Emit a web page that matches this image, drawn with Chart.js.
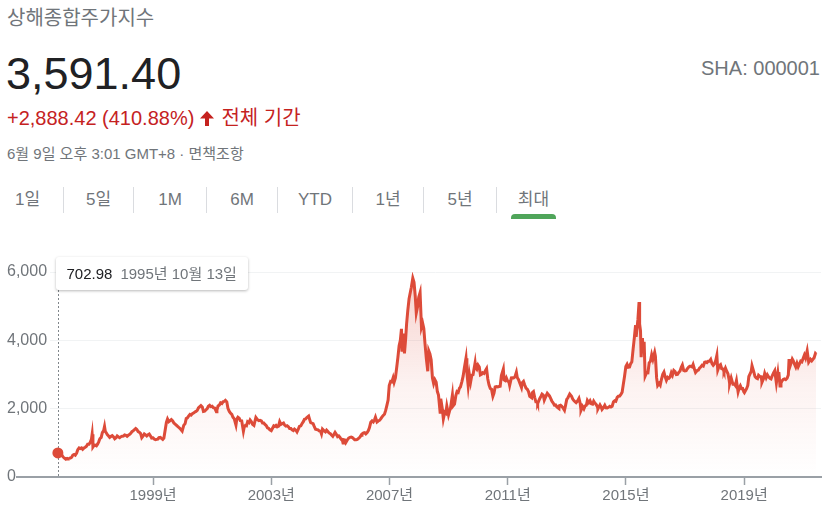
<!DOCTYPE html>
<html lang="ko">
<head>
<meta charset="utf-8">
<title>상해종합주가지수</title>
<script src="https://cdn.jsdelivr.net/npm/chart.js@4.4.1/dist/chart.umd.min.js"></script>
<style>
  html, body { margin: 0; padding: 0; background: #fff; }
  body { width: 831px; height: 516px; position: relative; overflow: hidden;
         font-family: Arial, "Liberation Sans", "Noto Sans CJK KR", sans-serif; }
  .abs { position: absolute; line-height: 1; white-space: nowrap; }
  #title { left: 7px; top: 8px; font-size: 20px; color: #70757a; }
  #price { left: 6px; top: 51px; font-size: 45px; color: #202124; }
  #change { left: 7px; top: 108px; font-size: 20px; color: #c5221f; }
  #change svg { display: inline-block; vertical-align: -1px; margin: 0 7px 0 6px; }
  #stamp { left: 7px; top: 146px; font-size: 15px; color: #70757a; }
  #ticker { right: 11px; top: 58px; font-size: 20px; color: #70757a; }
  #tabs { position: absolute; left: -8px; top: 187px; height: 26px; display: flex; }
  #tabs div { height: 26px; line-height: 26px; text-align: center; font-size: 17px;
              color: #70757a; border-left: 1px solid #dadce0; box-sizing: border-box; position: relative; }
  #tabs div:first-child { border-left: none; }
  #tabs div.on::after { content: ""; position: absolute; left: 14px; right: 14px; top: 27px; height: 5px;
                        background: #4fa55a; border-radius: 4px 4px 0 0; }
  #wrap { position: absolute; left: 0; top: 240px; width: 831px; height: 276px; }
  #tip { position: absolute; top: 257px; height: 33px; line-height: 33px; padding: 0 11px;
         background: #fff; border-radius: 3px; font-size: 15px; color: #70757a;
         box-shadow: 0 1px 3px rgba(0,0,0,0.28); white-space: nowrap; }
  #tip b { font-weight: normal; color: #202124; margin-right: 8px; }
</style>
</head>
<body>
<div class="abs" id="title">상해종합주가지수</div>
<div class="abs" id="price">3,591.40</div>
<div class="abs" id="change">+2,888.42 (410.88%)<svg width="14" height="15" viewBox="0 0 14 15"><path d="M7 0 L14 7.5 L9 7.5 L9 15 L5 15 L5 7.5 L0 7.5 Z" fill="#c5221f"/></svg>전체 기간</div>
<div class="abs" id="stamp">6월 9일 오후 3:01 GMT+8 · 면책조항</div>
<div class="abs" id="ticker">SHA: 000001</div>
<div id="tabs"></div>
<div id="wrap"><canvas id="chart"></canvas></div>
<div id="tip"></div>

<script>
const ranges = ['1일', '5일', '1M', '6M', 'YTD', '1년', '5년', '최대'];
const rangeWidths = [71, 70, 73, 71, 75, 71, 73, 74];

const yearTicks = [1999, 2003, 2007, 2011, 2015, 2019];
const valueTicks = [0, 2000, 4000, 6000];

const dates = [
  '1995-10-13','1995-11-01','1995-11-15','1995-12-01','1995-12-15','1996-01-02','1996-01-19','1996-02-05','1996-02-15','1996-03-01',
  '1996-03-15','1996-04-01','1996-04-15','1996-05-01','1996-05-15','1996-06-01','1996-06-15','1996-07-01','1996-07-15','1996-08-01',
  '1996-08-15','1996-09-01','1996-09-15','1996-10-01','1996-10-15','1996-11-01','1996-11-15','1996-12-01','1996-12-10','1996-12-20',
  '1997-01-01','1997-01-15','1997-02-01','1997-02-15','1997-03-01','1997-03-15','1997-04-01','1997-04-15','1997-05-01','1997-05-12',
  '1997-05-22','1997-06-01','1997-06-15','1997-07-01','1997-07-15','1997-08-01','1997-08-15','1997-09-01','1997-09-15','1997-10-01',
  '1997-10-15','1997-11-01','1997-11-15','1997-12-01','1997-12-15','1998-01-01','1998-01-15','1998-02-01','1998-02-15','1998-03-01',
  '1998-03-15','1998-04-01','1998-04-15','1998-05-01','1998-06-01','1998-06-15','1998-07-01','1998-07-15','1998-08-01','1998-08-15',
  '1998-09-01','1998-09-15','1998-10-01','1998-10-15','1998-11-01','1998-11-15','1998-12-01','1998-12-15','1999-01-01','1999-01-15',
  '1999-02-01','1999-02-15','1999-03-01','1999-03-15','1999-04-01','1999-04-15','1999-05-01','1999-05-15','1999-06-01','1999-06-15',
  '1999-06-29','1999-07-15','1999-08-01','1999-08-15','1999-09-01','1999-09-15','1999-10-01','1999-10-15','1999-11-01','1999-11-15',
  '1999-12-01','1999-12-27','2000-01-15','2000-02-01','2000-02-15','2000-03-01','2000-03-15','2000-04-01','2000-04-15','2000-05-01',
  '2000-05-15','2000-06-01','2000-06-15','2000-07-01','2000-07-15','2000-08-01','2000-08-15','2000-09-01','2000-09-15','2000-10-01',
  '2000-10-15','2000-11-01','2000-11-15','2000-12-01','2000-12-15','2001-01-01','2001-01-15','2001-02-01','2001-02-22','2001-03-01',
  '2001-03-15','2001-04-01','2001-04-15','2001-05-01','2001-05-15','2001-06-01','2001-06-14','2001-07-01','2001-07-15','2001-08-01',
  '2001-08-15','2001-09-01','2001-09-15','2001-10-01','2001-10-22','2001-11-01','2001-11-15','2001-12-01','2001-12-15','2002-01-01',
  '2002-01-22','2002-02-01','2002-02-15','2002-03-01','2002-03-15','2002-04-01','2002-04-15','2002-05-01','2002-05-15','2002-06-01',
  '2002-06-25','2002-07-15','2002-08-01','2002-08-15','2002-09-01','2002-09-15','2002-10-01','2002-10-15','2002-11-01','2002-11-15',
  '2002-12-01','2002-12-15','2003-01-01','2003-01-15','2003-02-01','2003-02-15','2003-03-01','2003-03-15','2003-04-01','2003-04-15',
  '2003-05-01','2003-05-15','2003-06-01','2003-06-15','2003-07-01','2003-07-15','2003-08-01','2003-08-15','2003-09-01','2003-09-15',
  '2003-10-01','2003-10-15','2003-11-01','2003-11-15','2003-12-01','2003-12-15','2004-01-01','2004-01-15','2004-02-01','2004-02-15',
  '2004-03-01','2004-03-15','2004-04-07','2004-04-20','2004-05-01','2004-05-15','2004-06-01','2004-06-15','2004-07-01','2004-07-15',
  '2004-08-01','2004-08-15','2004-09-01','2004-09-13','2004-09-25','2004-10-15','2004-11-01','2004-11-15','2004-12-01','2004-12-15',
  '2005-01-01','2005-01-15','2005-01-31','2005-02-15','2005-02-28','2005-03-15','2005-03-31','2005-04-15','2005-04-30','2005-05-15',
  '2005-05-31','2005-06-06','2005-06-15','2005-06-30','2005-07-11','2005-07-29','2005-08-15','2005-08-31','2005-09-15','2005-09-30',
  '2005-10-15','2005-10-28','2005-11-15','2005-11-30','2005-12-15','2005-12-30','2006-01-15','2006-01-26','2006-02-15','2006-02-28',
  '2006-03-15','2006-03-31','2006-04-15','2006-04-28','2006-05-15','2006-05-31','2006-06-15','2006-06-30','2006-07-12','2006-07-31',
  '2006-08-15','2006-08-31','2006-09-15','2006-09-29','2006-10-15','2006-10-31','2006-11-15','2006-11-30','2006-12-15','2006-12-29',
  '2007-01-15','2007-01-31','2007-02-15','2007-02-27','2007-03-15','2007-03-30','2007-04-15','2007-04-30','2007-05-15','2007-05-29',
  '2007-06-05','2007-06-20','2007-07-05','2007-07-20','2007-07-31','2007-08-15','2007-08-31','2007-09-15','2007-09-28','2007-10-16',
  '2007-10-31','2007-11-15','2007-11-28','2007-12-15','2007-12-28','2008-01-14','2008-01-31','2008-02-15','2008-02-29','2008-03-15',
  '2008-03-31','2008-04-18','2008-04-30','2008-05-15','2008-05-30','2008-06-15','2008-06-30','2008-07-15','2008-07-31','2008-08-15',
  '2008-08-29','2008-09-18','2008-09-26','2008-10-15','2008-10-28','2008-11-15','2008-11-28','2008-12-10','2008-12-31','2009-01-15',
  '2009-01-23','2009-02-17','2009-02-27','2009-03-15','2009-03-31','2009-04-15','2009-04-30','2009-05-15','2009-05-27','2009-06-15',
  '2009-06-30','2009-07-15','2009-08-04','2009-08-15','2009-08-31','2009-09-15','2009-09-30','2009-10-15','2009-10-30','2009-11-24',
  '2009-11-30','2009-12-15','2009-12-31','2010-01-15','2010-01-29','2010-02-15','2010-02-26','2010-03-15','2010-03-31','2010-04-15',
  '2010-04-30','2010-05-15','2010-05-31','2010-06-15','2010-07-02','2010-07-15','2010-07-30','2010-08-15','2010-08-31','2010-09-15',
  '2010-09-30','2010-10-15','2010-11-08','2010-11-17','2010-11-30','2010-12-15','2010-12-31','2011-01-15','2011-01-25','2011-02-15',
  '2011-02-28','2011-03-15','2011-03-31','2011-04-18','2011-04-29','2011-05-15','2011-05-31','2011-06-20','2011-06-30','2011-07-15',
  '2011-07-29','2011-08-15','2011-08-31','2011-09-15','2011-09-30','2011-10-24','2011-10-31','2011-11-15','2011-11-30','2011-12-15',
  '2011-12-30','2012-01-06','2012-01-31','2012-02-15','2012-02-29','2012-03-15','2012-03-28','2012-04-15','2012-05-04','2012-05-31',
  '2012-06-15','2012-06-29','2012-07-15','2012-07-31','2012-08-15','2012-08-31','2012-09-26','2012-09-28','2012-10-15','2012-10-31',
  '2012-11-15','2012-12-03','2012-12-15','2012-12-31','2013-01-15','2013-02-06','2013-02-28','2013-03-15','2013-03-29','2013-04-15',
  '2013-04-26','2013-05-15','2013-05-31','2013-06-15','2013-06-25','2013-07-15','2013-07-31','2013-08-15','2013-08-30','2013-09-12',
  '2013-09-30','2013-10-15','2013-10-31','2013-11-15','2013-11-29','2013-12-15','2013-12-31','2014-01-15','2014-01-20','2014-02-15',
  '2014-02-28','2014-03-12','2014-03-31','2014-04-15','2014-04-30','2014-05-15','2014-05-30','2014-06-15','2014-06-30','2014-07-15',
  '2014-07-31','2014-08-15','2014-08-29','2014-09-15','2014-09-30','2014-10-15','2014-10-31','2014-11-15','2014-11-28','2014-12-15',
  '2014-12-31','2015-01-15','2015-01-30','2015-02-15','2015-02-27','2015-03-15','2015-03-31','2015-04-15','2015-04-30','2015-05-07',
  '2015-05-29','2015-06-12','2015-06-19','2015-06-30','2015-07-08','2015-07-24','2015-07-31','2015-08-14','2015-08-26','2015-09-15',
  '2015-09-30','2015-10-15','2015-10-30','2015-11-15','2015-11-30','2015-12-22','2015-12-31','2016-01-15','2016-01-28','2016-02-15',
  '2016-02-29','2016-03-15','2016-03-31','2016-04-15','2016-04-29','2016-05-15','2016-05-31','2016-06-15','2016-06-30','2016-07-15',
  '2016-07-29','2016-08-15','2016-08-31','2016-09-15','2016-09-30','2016-10-15','2016-10-31','2016-11-15','2016-11-29','2016-12-15',
  '2016-12-30','2017-01-15','2017-01-26','2017-02-15','2017-02-28','2017-03-15','2017-03-31','2017-04-11','2017-04-28','2017-05-11',
  '2017-05-31','2017-06-15','2017-06-30','2017-07-15','2017-07-31','2017-08-15','2017-08-31','2017-09-15','2017-09-29','2017-10-15',
  '2017-10-31','2017-11-14','2017-11-30','2017-12-15','2017-12-29','2018-01-15','2018-01-29','2018-02-09','2018-02-28','2018-03-15',
  '2018-03-30','2018-04-15','2018-04-27','2018-05-15','2018-05-31','2018-06-15','2018-06-29','2018-07-06','2018-07-25','2018-08-15',
  '2018-08-31','2018-09-14','2018-09-28','2018-10-18','2018-10-31','2018-11-15','2018-11-30','2018-12-14','2018-12-28','2019-01-04',
  '2019-01-31','2019-02-15','2019-02-28','2019-03-15','2019-03-29','2019-04-08','2019-04-30','2019-05-15','2019-05-31','2019-06-15',
  '2019-06-28','2019-07-15','2019-07-31','2019-08-09','2019-08-30','2019-09-12','2019-09-30','2019-10-15','2019-10-31','2019-11-15',
  '2019-11-29','2019-12-15','2019-12-31','2020-01-14','2020-02-03','2020-02-21','2020-02-28','2020-03-05','2020-03-19','2020-03-31',
  '2020-04-15','2020-04-30','2020-05-15','2020-05-29','2020-06-15','2020-06-30','2020-07-09','2020-07-17','2020-07-31','2020-08-18',
  '2020-08-31','2020-09-15','2020-09-30','2020-10-15','2020-10-30','2020-11-15','2020-11-30','2020-12-15','2020-12-31','2021-01-15',
  '2021-01-29','2021-02-18','2021-03-09','2021-03-31','2021-04-15','2021-04-30','2021-05-15','2021-05-31','2021-06-09'
];

const closes = [
  702.98, 690, 670, 640, 590, 555, 520, 545, 537, 545,
  555, 580, 640, 660, 640, 700, 800, 850, 830, 850,
  810, 850, 870, 900, 960, 960, 1010, 1100, 1250, 880,
  920, 930, 910, 960, 1030, 1120, 1160, 1300, 1360, 1480,
  1330, 1300, 1240, 1200, 1160, 1190, 1210, 1170, 1120, 1150,
  1200, 1170, 1150, 1180, 1195, 1200, 1230, 1220, 1190, 1220,
  1240, 1280, 1330, 1350, 1420, 1390, 1330, 1310, 1270, 1150,
  1200, 1260, 1230, 1200, 1240, 1260, 1200, 1140, 1147, 1110,
  1090, 1100, 1110, 1150, 1160, 1130, 1100, 1140, 1390, 1600,
  1700, 1620, 1650, 1680, 1640, 1580, 1550, 1520, 1480, 1450,
  1420, 1345, 1510, 1560, 1710, 1730, 1780, 1830, 1810, 1850,
  1870, 1900, 1920, 1950, 2020, 2060, 2090, 2050, 1920, 1930,
  1960, 2000, 2070, 2100, 2060, 2073, 2030, 2020, 1910, 1960,
  2080, 2110, 2170, 2150, 2200, 2215, 2245, 2200, 2010, 1920,
  1870, 1830, 1750, 1700, 1520, 1690, 1750, 1720, 1650, 1646,
  1340, 1460, 1510, 1500, 1620, 1590, 1670, 1620, 1540, 1510,
  1745, 1680, 1650, 1660, 1640, 1580, 1580, 1540, 1500, 1440,
  1420, 1380, 1357, 1420, 1500, 1480, 1510, 1470, 1490, 1620,
  1540, 1560, 1580, 1520, 1490, 1500, 1470, 1420, 1420, 1380,
  1360, 1400, 1370, 1320, 1400, 1480, 1497, 1560, 1620, 1690,
  1700, 1740, 1783, 1680, 1595, 1580, 1560, 1480, 1400, 1390,
  1380, 1350, 1340, 1260, 1400, 1350, 1320, 1370, 1330, 1290,
  1266, 1230, 1191, 1250, 1306, 1250, 1181, 1200, 1159, 1100,
  1060, 998, 1090, 1080, 1011, 1083, 1140, 1162, 1170, 1155,
  1120, 1092, 1090, 1099, 1130, 1161, 1220, 1258, 1290, 1299,
  1260, 1298, 1360, 1440, 1600, 1641, 1610, 1672, 1750, 1612,
  1640, 1658, 1700, 1752, 1800, 1837, 1950, 2099, 2250, 2675,
  2800, 2786, 2900, 2771, 2900, 3183, 3500, 3841, 4000, 4335,
  3670, 4200, 3615, 4060, 4471, 4870, 5218, 5400, 5552, 5820,
  5700, 5300, 4803, 5000, 5261, 5400, 4383, 4500, 4348, 3900,
  3472, 3094, 3693, 3600, 3433, 2900, 2736, 2850, 2775, 2500,
  2397, 1895, 2293, 2000, 1700, 1900, 1871, 2080, 1821, 1950,
  1991, 2400, 2082, 2130, 2373, 2500, 2477, 2600, 2633, 2800,
  2959, 3200, 3478, 3050, 2667, 3000, 2779, 2980, 2996, 3338,
  3195, 3150, 3277, 3220, 2989, 3010, 3051, 3030, 3110, 3170,
  2870, 2700, 2592, 2570, 2363, 2450, 2638, 2650, 2639, 2650,
  2656, 2970, 3160, 2840, 2820, 2900, 2808, 2790, 2680, 2900,
  2905, 2900, 2928, 3067, 2911, 2850, 2743, 2620, 2762, 2800,
  2701, 2600, 2567, 2500, 2359, 2320, 2468, 2500, 2333, 2200,
  2199, 2150, 2292, 2360, 2428, 2400, 2250, 2350, 2450, 2373,
  2300, 2225, 2170, 2103, 2110, 2047, 2000, 2086, 2100, 2069,
  2020, 1950, 2080, 2269, 2320, 2430, 2365, 2280, 2236, 2200,
  2177, 2230, 2300, 2160, 1950, 2060, 1994, 2080, 2098, 2240,
  2174, 2230, 2141, 2130, 2220, 2160, 2116, 2050, 1990, 2110,
  2056, 1975, 2033, 2100, 2026, 2020, 2039, 2070, 2048, 2070,
  2201, 2230, 2217, 2330, 2364, 2370, 2420, 2480, 2683, 2950,
  3235, 3300, 3210, 3220, 3310, 3370, 3748, 4080, 4441, 4100,
  4612, 5120, 4480, 4277, 3507, 4070, 3664, 3960, 2950, 3060,
  3053, 3340, 3383, 3580, 3445, 3650, 3539, 2900, 2680, 2740,
  2688, 2860, 3004, 3070, 2938, 2830, 2917, 2890, 2930, 3050,
  2979, 3120, 3085, 3000, 3005, 3060, 3100, 3210, 3280, 3120,
  3104, 3110, 3159, 3220, 3242, 3240, 3223, 3290, 3155, 3060,
  3117, 3130, 3192, 3220, 3273, 3250, 3361, 3370, 3349, 3390,
  3393, 3440, 3317, 3270, 3307, 3410, 3560, 3130, 3259, 3290,
  3169, 3160, 3082, 3190, 3095, 3020, 2847, 2730, 2900, 2720,
  2725, 2680, 2821, 2490, 2603, 2670, 2588, 2590, 2494, 2470,
  2585, 2680, 2941, 3020, 3091, 3260, 3078, 2940, 2899, 2880,
  2979, 2940, 2933, 2770, 2886, 3030, 2905, 2990, 2929, 2890,
  2872, 2970, 3050, 3110, 2750, 3040, 2880, 3070, 2660, 2750,
  2820, 2860, 2870, 2852, 2890, 2985, 3450, 3210, 3310, 3450,
  3396, 3300, 3218, 3330, 3225, 3310, 3392, 3370, 3473, 3570,
  3483, 3696, 3360, 3442, 3400, 3447, 3490, 3615, 3591.40
];

// axis window, in decimal years
const xMin = 1995.514;
const xMax = 2021.6;

const RED = '#dd4b39';
const GRAY = '#70757a';

function decimalYear(s) {
  const [y, m, d] = s.split('-').map(Number);
  const start = Date.UTC(y, 0, 1);
  const end = Date.UTC(y + 1, 0, 1);
  return y + (Date.UTC(y, m - 1, d) - start) / (end - start);
}

const points = dates.map((d, i) => ({ x: decimalYear(d), y: closes[i] }));

// range tabs
const tabs = document.getElementById('tabs');
ranges.forEach((r, i) => {
  const el = document.createElement('div');
  el.textContent = r;
  el.style.width = rangeWidths[i] + 'px';
  if (i === ranges.length - 1) el.className = 'on';
  tabs.appendChild(el);
});

// hover box for the first point
const tip = document.getElementById('tip');
const [ty, tm, td] = dates[0].split('-').map(Number);
tip.innerHTML = '<b>' + closes[0].toFixed(2) + '</b>' + ty + '년 ' + tm + '월 ' + td + '일';

const hoverLine = {
  id: 'hoverLine',
  beforeDatasetsDraw(chart) {
    const p = chart.getDatasetMeta(0).data[0];
    const wrap = document.getElementById('wrap');
    const x = Math.round(p.x) + 0.5;
    tip.style.left = (wrap.offsetLeft + x - 3) + 'px';
    const top = tip.offsetTop + tip.offsetHeight - wrap.offsetTop;
    const ctx = chart.ctx;
    ctx.save();
    ctx.strokeStyle = '#80868b';
    ctx.lineWidth = 1;
    ctx.setLineDash([2, 2]);
    ctx.beginPath();
    ctx.moveTo(x, top);
    ctx.lineTo(x, chart.chartArea.bottom);
    ctx.stroke();
    ctx.restore();
  }
};

const ctx = document.getElementById('chart').getContext('2d');
new Chart(ctx, {
  type: 'line',
  data: {
    datasets: [{
      data: points,
      borderColor: RED,
      borderWidth: 3,
      tension: 0,
      fill: 'origin',
      backgroundColor: (c) => {
        const area = c.chart.chartArea;
        if (!area) return 'rgba(221,75,57,0.1)';
        const g = c.chart.ctx.createLinearGradient(0, area.top, 0, area.bottom);
        g.addColorStop(0, 'rgba(221,75,57,0.26)');
        g.addColorStop(0.55, 'rgba(221,75,57,0.07)');
        g.addColorStop(1, 'rgba(221,75,57,0)');
        return g;
      },
      pointRadius: (c) => c.dataIndex === 0 ? 5.5 : 0,
      pointBackgroundColor: RED,
      pointBorderWidth: 0
    }]
  },
  options: {
    responsive: true,
    maintainAspectRatio: false,
    animation: false,
    events: [],
    layout: { padding: { left: 7, right: 10, top: 32, bottom: 0 } },
    plugins: { legend: { display: false }, tooltip: { enabled: false } },
    scales: {
      x: {
        type: 'linear',
        min: xMin,
        max: xMax,
        afterBuildTicks: (s) => { s.ticks = yearTicks.map(v => ({ value: v })); },
        afterFit: (s) => { s.height = 39; },
        ticks: {
          autoSkip: false,
          maxRotation: 0,
          padding: 2,
          color: GRAY,
          font: { size: 15, family: 'Arial, "Liberation Sans", "Noto Sans CJK KR", sans-serif' },
          callback: (v) => v + '년'
        },
        grid: { drawOnChartArea: false, drawTicks: true, tickLength: 8, tickColor: '#9aa0a6', tickWidth: 1.5 },
        border: { color: '#9aa0a6', width: 2 }
      },
      y: {
        min: 0,
        max: 6000,
        afterBuildTicks: (s) => { s.ticks = valueTicks.map(v => ({ value: v })); },
        afterFit: (s) => { s.width = 43; },
        ticks: {
          crossAlign: 'far',
          padding: 0,
          color: GRAY,
          font: { size: 16, family: 'Arial, "Liberation Sans", sans-serif' },
          callback: (v) => v.toLocaleString('en-US')
        },
        grid: {
          color: (c) => c.tick && c.tick.value === 0 ? '#9aa0a6' : '#f1f3f4',
          lineWidth: (c) => c.tick && c.tick.value === 0 ? 2 : 1,
          tickColor: (c) => c.tick && c.tick.value === 0 ? '#9aa0a6' : 'rgba(0,0,0,0)',
          tickLength: 34,
          tickWidth: 2
        },
        border: { display: false }
      }
    }
  },
  plugins: [hoverLine]
});
</script>
</body>
</html>
